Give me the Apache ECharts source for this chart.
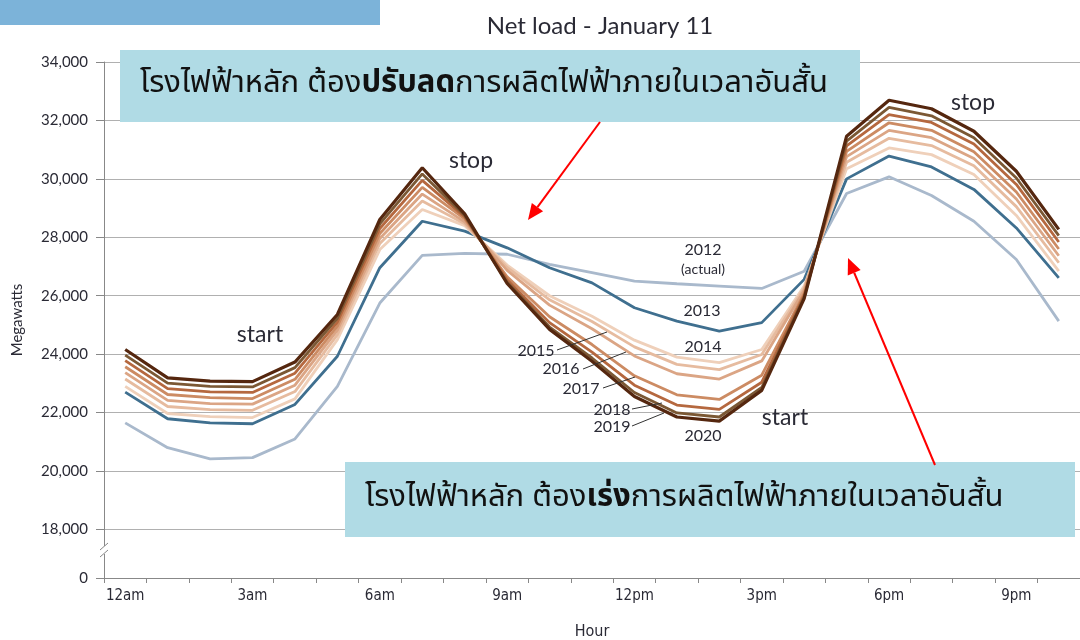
<!DOCTYPE html>
<html>
<head>
<meta charset="utf-8">
<script src="https://cdn.jsdelivr.net/npm/echarts@6/dist/echarts.min.js"></script>
<style>
  html, body { margin: 0; padding: 0; background: #fff; }
  #chart { width: 1080px; height: 640px; }
</style>
</head>
<body>
<div id="chart"></div>
<script>
  // hourly points, 12am .. 10pm
  const hours = ['12am', '1am', '2am', '3am', '4am', '5am', '6am', '7am', '8am', '9am', '10am', '11am',
    '12pm', '1pm', '2pm', '3pm', '4pm', '5pm', '6pm', '7pm', '8pm', '9pm', '10pm'];

  const load2012 = [21650, 20800, 20420, 20460, 21100, 22900, 25750, 27380, 27450, 27420, 27070, 26790,
    26500, 26410, 26330, 26250, 26840, 29500, 30070, 29430, 28550, 27240, 25130];
  const load2013 = [22700, 21790, 21650, 21620, 22280, 23930, 26960, 28550, 28210, 27640, 26960, 26440,
    25590, 25130, 24790, 25080, 26560, 30000, 30780, 30410, 29640, 28320, 26610];
  const load2014 = [22900, 21970, 21860, 21830, 22470, 24500, 27580, 28950, 28400, 27050, 26000, 25300,
    24480, 23900, 23710, 24160, 26330, 30350, 31060, 30830, 30150, 28750, 26840];
  const load2015 = [23150, 22210, 22100, 22080, 22720, 24670, 27790, 29240, 28460, 26970, 25860, 25120,
    24250, 23650, 23470, 23990, 26260, 30570, 31390, 31140, 30450, 29050, 27130];
  const load2016 = [23370, 22420, 22310, 22290, 22940, 24820, 27960, 29480, 28530, 26870, 25680, 24870,
    23940, 23330, 23150, 23770, 26190, 30760, 31660, 31410, 30700, 29310, 27370];
  const load2017 = [23570, 22620, 22510, 22480, 23140, 24960, 28130, 29710, 28630, 26650, 25280, 24330,
    23260, 22610, 22450, 23280, 26080, 30940, 31920, 31660, 30930, 29550, 27600];
  const load2018 = [23780, 22820, 22710, 22690, 23350, 25100, 28300, 29950, 28700, 26550, 25080, 24070,
    22940, 22260, 22110, 23040, 26010, 31130, 32200, 31930, 31190, 29810, 27840];
  const load2019 = [23970, 23010, 22900, 22880, 23540, 25230, 28460, 30170, 28750, 26460, 24930, 23870,
    22690, 21990, 21850, 22860, 25950, 31290, 32450, 32160, 31410, 30030, 28060];
  const load2020 = [24160, 23190, 23080, 23060, 23730, 25360, 28610, 30380, 28800, 26420, 24850, 23760,
    22550, 21850, 21710, 22760, 25900, 31460, 32690, 32400, 31630, 30260, 28270];

  // axis is broken: the bottom value is drawn as "0"
  const yBottom = 16340;
  const yTicks = [yBottom, 18000, 20000, 22000, 24000, 26000, 28000, 30000, 32000, 34000];

  const seriesList = [
    {name: '2012', data: load2012, color: '#a9b9cc', width: 2.8},
    {name: '2013', data: load2013, color: '#3f6f8f', width: 2.8},
    {name: '2014', data: load2014, color: '#efd0ba', width: 2.8},
    {name: '2015', data: load2015, color: '#e6bb9f', width: 2.8},
    {name: '2016', data: load2016, color: '#dba585', width: 2.8},
    {name: '2017', data: load2017, color: '#cc8b63', width: 2.8},
    {name: '2018', data: load2018, color: '#b5683f', width: 2.8},
    {name: '2019', data: load2019, color: '#7b5834', width: 2.8},
    {name: '2020', data: load2020, color: '#55270f', width: 3.2}
  ];

  const txt = '#2a2a35';
  const labelFont = 'Lato, "Noto Sans", sans-serif';
  const narrowFont = '"Liberation Sans Narrow", "DejaVu Sans Condensed", sans-serif';
  const thaiFont = '"Noto Sans Thai", "Noto Sans", Tahoma, sans-serif';

  function label(x, y, text, size) {
    return {
      type: 'text', x: x, y: y, z: 50,
      style: {
        text: text, fill: txt, font: size + 'px ' + labelFont,
        textAlign: 'center', textVerticalAlign: 'middle',
        align: 'center', verticalAlign: 'middle'
      }
    };
  }
  function leader(x1, y1, x2, y2) {
    return {type: 'line', z: 50, shape: {x1: x1, y1: y1, x2: x2, y2: y2}, style: {stroke: '#333', lineWidth: 1}};
  }
  function arrow(x1, y1, x2, y2) {
    const dx = x2 - x1, dy = y2 - y1;
    const len = Math.sqrt(dx * dx + dy * dy);
    const ux = dx / len, uy = dy / len;
    const bx = x2 - 16 * ux, by = y2 - 16 * uy;
    return [
      {type: 'line', z: 60, shape: {x1: x1, y1: y1, x2: bx, y2: by}, style: {stroke: '#ff0000', lineWidth: 2}},
      {type: 'polygon', z: 60, shape: {points: [[x2, y2], [bx - 7 * uy, by + 7 * ux], [bx + 7 * uy, by - 7 * ux]]},
        style: {fill: '#ff0000'}}
    ];
  }
  function noteBox(x, y, w, h, boldWord) {
    return [
      {type: 'rect', z: 40, shape: {x: x, y: y, width: w, height: h}, style: {fill: '#b0dbe5'}},
      {
        type: 'text', z: 41, x: x + 20, y: y + h / 2,
        style: {
          text: '{n|โรงไฟฟ้าหลัก ต้อง}{b|' + boldWord + '}{n|การผลิตไฟฟ้าภายในเวลาอันสั้น}',
          textVerticalAlign: 'middle', verticalAlign: 'middle',
          rich: {
            n: {fontSize: 31, fontFamily: thaiFont, fill: '#111'},
            b: {fontSize: 31, fontFamily: thaiFont, fontWeight: 'bold', fill: '#111'}
          }
        }
      }
    ];
  }

  const chart = echarts.init(document.getElementById('chart'));
  const option = {
    backgroundColor: '#fff',
    animation: false,
    grid: {left: 104, right: 0, top: 62, bottom: 62, containLabel: false, outerBoundsMode: 'none'},
    xAxis: {
      type: 'category',
      data: hours,
      boundaryGap: true,
      name: 'Hour',
      nameLocation: 'middle',
      nameGap: 46,
      nameTextStyle: {color: txt, fontSize: 16, fontFamily: narrowFont},
      axisLine: {lineStyle: {color: '#888', width: 1}},
      axisTick: {show: true, interval: 0, length: 5, lineStyle: {color: '#888'}},
      axisLabel: {interval: 2, color: txt, fontSize: 15, margin: 11, fontFamily: narrowFont},
      splitLine: {show: false}
    },
    yAxis: {
      type: 'value',
      min: yBottom,
      max: 34000,
      name: 'Megawatts',
      nameLocation: 'middle',
      nameGap: 79,
      nameTextStyle: {color: txt, fontSize: 15, fontFamily: labelFont},
      axisLine: {show: true, lineStyle: {color: '#888', width: 1}},
      axisTick: {show: true, length: 8, customValues: yTicks, lineStyle: {color: '#888'}},
      axisLabel: {
        customValues: yTicks, color: txt, fontSize: 15, margin: 16, fontFamily: labelFont,
        formatter: function (v) { return v === yBottom ? '0' : v.toLocaleString('en-US'); }
      },
      splitLine: {show: true, lineStyle: {color: '#b0b0b0', width: 1}}
    },
    series: seriesList.map(function (s) {
      return {
        name: s.name, type: 'line', data: s.data, symbol: 'none', smooth: false,
        lineStyle: {color: s.color, width: s.width}, itemStyle: {color: s.color}
      };
    }),
    graphic: [].concat(
      [
        {type: 'rect', z: 40, shape: {x: 0, y: 0, width: 380, height: 25}, style: {fill: '#7cb3d9'}},
        {
          type: 'text', x: 600, y: 26, z: 50,
          style: {
            text: 'Net load - January 11', fill: txt, font: '24px ' + labelFont,
            textAlign: 'center', textVerticalAlign: 'middle', align: 'center', verticalAlign: 'middle'
          }
        },
        // break marks on the value axis
        {type: 'rect', z: 45, shape: {x: 101, y: 546, width: 6, height: 8}, style: {fill: '#fff'}},
        {type: 'line', z: 46, shape: {x1: 100, y1: 550, x2: 108, y2: 543}, style: {stroke: '#888', lineWidth: 1}},
        {type: 'line', z: 46, shape: {x1: 100, y1: 557, x2: 108, y2: 550}, style: {stroke: '#888', lineWidth: 1}},
        label(260, 335, 'start', 23),
        label(471, 161, 'stop', 23),
        label(973, 103, 'stop', 23),
        label(785, 418, 'start', 23),
        label(703, 250, '2012', 16),
        label(703, 269, '(actual)', 14),
        label(702, 311, '2013', 16),
        label(703, 347, '2014', 16),
        label(536, 351, '2015', 16),
        label(561, 369, '2016', 16),
        label(581, 389, '2017', 16),
        label(612, 410, '2018', 16),
        label(612, 427, '2019', 16),
        label(703, 436, '2020', 16),
        leader(557, 350, 607, 332),
        leader(583, 369, 626, 352),
        leader(603, 388, 635, 377),
        leader(632, 409, 662, 403),
        leader(632, 426, 664, 413)
      ],
      noteBox(120, 50, 740, 72, 'ปรับลด'),
      noteBox(345, 462, 730, 75, 'เร่ง'),
      arrow(600, 122, 528, 220),
      arrow(935, 465, 848, 258)
    )
  };
  chart.setOption(option);
</script>
</body>
</html>
